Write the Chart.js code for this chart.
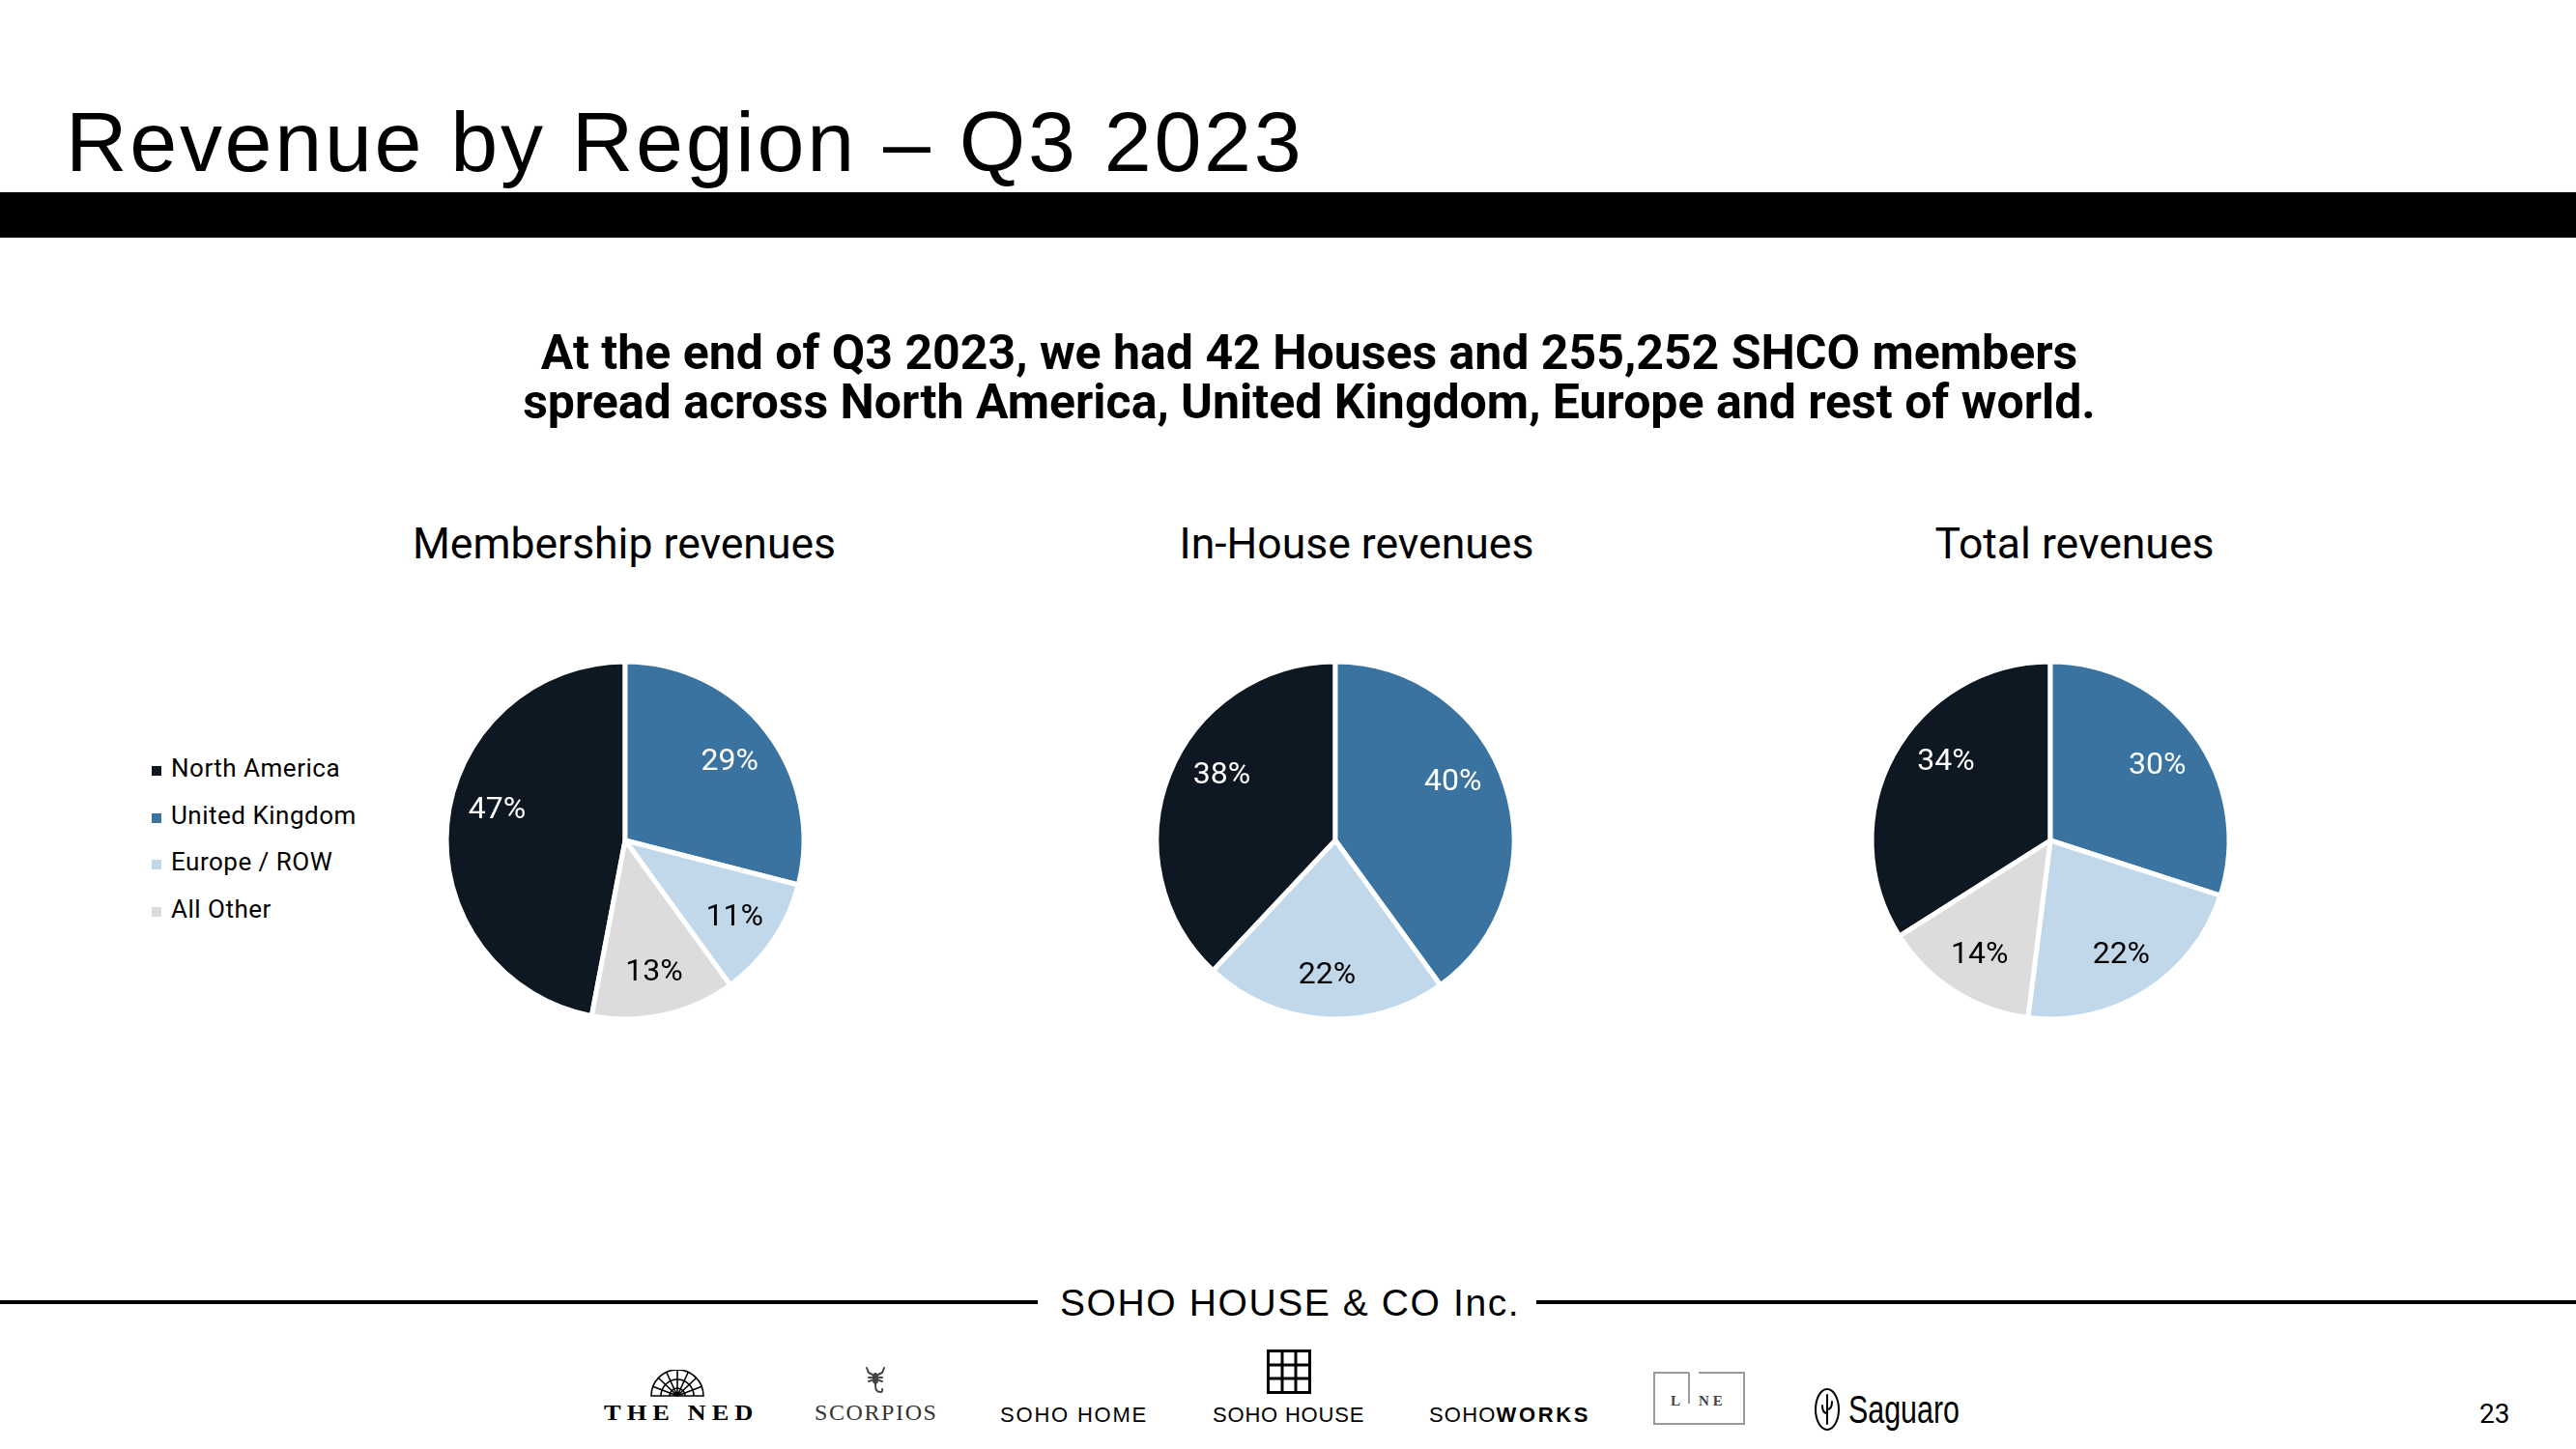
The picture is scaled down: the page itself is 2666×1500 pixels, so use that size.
<!DOCTYPE html>
<html>
<head>
<meta charset="utf-8">
<title>Revenue by Region – Q3 2023</title>
<script src="https://cdn.jsdelivr.net/npm/chart.js@4.4.0/dist/chart.umd.min.js"></script>
<style>
  html, body { margin: 0; padding: 0; background: #fff; }
  body { width: 2666px; height: 1500px; position: relative; overflow: hidden; font-family: Roboto, sans-serif; color: #000; }
  .abs { position: absolute; white-space: nowrap; }
  .title { left: 68px; top: 103px; font: 400 88px/88px "Liberation Sans", Arial, sans-serif; letter-spacing: 2.7px; }
  .bar { left: 0; top: 199px; width: 2666px; height: 47px; background: #000; }
  .subtitle { left: 355px; width: 2000px; text-align: center; font: 700 50px/44px Roboto, sans-serif; }
  .chart-title { width: 800px; text-align: center; top: 541px; font: 400 44.5px/44px Roboto, sans-serif; }
  .pie { position: absolute; }
  .legend-item { left: 157px; font: 400 26px/26px Roboto, sans-serif; letter-spacing: 0.5px; }
  .legend-item i { display: inline-block; width: 10px; height: 10px; margin-right: 10px; vertical-align: 1px; }
  .rule { height: 4px; top: 1346px; background: #000; }
  .brand { left: 1097px; top: 1329px; font: 400 39px/39px "Liberation Sans", Arial, sans-serif; letter-spacing: 1.6px; }
  .logo-sans { font: 400 22px/22px "Liberation Sans", Arial, sans-serif; top: 1454px; }
  .logo-serif { font: 22px/22px "Liberation Serif", "Times New Roman", serif; top: 1453px; }
  .page { left: 2566px; top: 1450px; font: 400 28px/28px Roboto, sans-serif; }
</style>
</head>
<body>

<div class="abs title">Revenue by Region – Q3 2023</div>
<div class="abs bar"></div>

<div class="abs subtitle" style="top:343px">At the end of Q3 2023, we had 42 Houses and 255,252 SHCO members</div>
<div class="abs subtitle" style="top:394px">spread across North America, United Kingdom, Europe and rest of world.</div>

<div id="titles"></div>
<div id="legend"></div>

<canvas id="pie1" class="pie" width="400" height="400" style="left:447px;top:670px"></canvas>
<canvas id="pie2" class="pie" width="400" height="400" style="left:1182px;top:670px"></canvas>
<canvas id="pie3" class="pie" width="400" height="400" style="left:1922px;top:670px"></canvas>

<!-- footer -->
<div class="abs rule" style="left:0;width:1074px"></div>
<div class="abs rule" style="left:1590px;width:1076px"></div>
<div class="abs brand">SOHO HOUSE &amp; CO Inc.</div>

<svg class="abs" style="left:672px;top:1418px" width="58" height="30" viewBox="0 0 58 30">
  <g fill="none" stroke="#000" stroke-width="1.6">
    <path d="M2 27 A27 27 0 0 1 56 27 Z"/>
    <path d="M12 27 A17 17 0 0 1 46 27"/>
    <path d="M21 27 A8 8 0 0 1 37 27"/>
    <path d="M29 27 L29 0 M29 27 L9 8 M29 27 L49 8 M29 27 L3 17 M29 27 L55 17 M29 27 L18 3 M29 27 L40 3"/>
  </g>
</svg>
<div class="abs logo-serif" style="left:625px;top:1451px;font-size:24px;font-weight:700;letter-spacing:5.5px;transform:scaleX(1.1);transform-origin:left top">THE NED</div>

<svg class="abs" style="left:893px;top:1414px" width="26" height="30" viewBox="0 0 26 30">
  <g fill="none" stroke="#444" stroke-width="2" stroke-linecap="round">
    <path d="M4 2 L6 7 L10 9 M22 2 L20 7 L16 9"/>
    <path d="M6 12 L9 12 M17 12 L20 12 M6 16 L9 15 M17 15 L20 16"/>
    <path d="M13 8 L13 20 Q13 27 18 27 Q21 27 20 24"/>
  </g>
  <ellipse cx="13" cy="13" rx="3.5" ry="6" fill="#444"/>
</svg>
<div class="abs logo-serif" style="left:843px;top:1451px;font-size:24px;color:#333;letter-spacing:1.6px">SCORPIOS</div>

<div class="abs logo-sans" style="left:1035px;letter-spacing:1.8px">SOHO HOME</div>

<svg class="abs" style="left:1311px;top:1397px" width="46" height="46" viewBox="0 0 46 46">
  <g fill="none" stroke="#000" stroke-width="3">
    <rect x="1.5" y="1.5" width="43" height="43"/>
    <path d="M16 1.5 V44.5 M30 1.5 V44.5 M1.5 16 H44.5 M1.5 30 H44.5"/>
  </g>
</svg>
<div class="abs logo-sans" style="left:1255px;letter-spacing:0.8px">SOHO HOUSE</div>

<div class="abs logo-sans" style="left:1479px;letter-spacing:1.2px">SOHO<b style="letter-spacing:2.6px">WORKS</b></div>

<svg class="abs" style="left:1711px;top:1420px" width="96" height="56" viewBox="0 0 96 56">
  <g fill="none" stroke="#9a9a9a" stroke-width="2">
    <path d="M37 1 H1 V54 H94 V1 H47"/>
    <path d="M37 1 V33"/>
  </g>
  <text x="18" y="35" font-family="Liberation Serif, serif" font-weight="700" font-size="15" fill="#444">L</text>
  <text x="47" y="35" font-family="Liberation Serif, serif" font-weight="700" font-size="15" fill="#444" letter-spacing="4">NE</text>
</svg>

<svg class="abs" style="left:1877px;top:1436px" width="28" height="46" viewBox="0 0 28 46">
  <g fill="none" stroke="#000" stroke-width="2" stroke-linecap="round">
    <ellipse cx="14" cy="23" rx="12" ry="21"/>
    <path d="M14 8 V38 M14 27 Q9 27 9 19 M14 23 Q19 23 19 15"/>
  </g>
</svg>
<div class="abs" style="left:1913px;top:1439px;font:400 40px/40px 'Liberation Sans',Arial,sans-serif;transform:scaleX(0.76);transform-origin:left top">Saguaro</div>

<div class="abs page">23</div>

<script>
// shares in % by region
const regions = ['North America', 'United Kingdom', 'Europe / ROW', 'All Other'];
const membershipShare = [47, 29, 11, 13];
const inHouseShare = [38, 40, 22, 0];
const totalShare = [34, 30, 22, 14];
const chartTitles = ['Membership revenues', 'In-House revenues', 'Total revenues'];

const regionColors = ['#0d1822', '#3a73a0', '#c1d8eb', '#dcdcdc'];
const labelColors = ['#ffffff', '#ffffff', '#000000', '#000000'];

// chart titles (centre x) and legend rows
const titleCenters = [646, 1404, 2147];
chartTitles.forEach((t, i) => {
    const el = document.createElement('div');
    el.className = 'abs chart-title';
    el.style.left = (titleCenters[i] - 400) + 'px';
    el.textContent = t;
    document.getElementById('titles').appendChild(el);
});

regions.forEach((r, i) => {
    const el = document.createElement('div');
    el.className = 'abs legend-item';
    el.style.top = (782 + i * 48.5) + 'px';
    const sw = document.createElement('i');
    sw.style.background = regionColors[i];
    el.appendChild(sw);
    el.appendChild(document.createTextNode(r));
    document.getElementById('legend').appendChild(el);
});

// percentage labels inside the slices
const sliceLabels = {
    id: 'sliceLabels',
    afterDatasetsDraw(chart) {
        const ctx = chart.ctx;
        const values = chart.data.datasets[0].data;
        const meta = chart.getDatasetMeta(0);
        ctx.save();
        ctx.font = '400 32px Roboto';
        ctx.textAlign = 'center';
        ctx.textBaseline = 'alphabetic';
        meta.data.forEach((arc, i) => {
            if (!values[i]) return;
            const p = arc.getProps(['x', 'y', 'startAngle', 'endAngle', 'outerRadius'], true);
            let mid = (p.startAngle + p.endAngle) / 2;
            // labels of the big slices sit a bit closer to 12 o'clock, like the slide
            if (p.endAngle - p.startAngle > Math.PI * 2 * 0.32) {
                const fromTop = ((mid + Math.PI / 2) % (Math.PI * 2) + Math.PI * 2) % (Math.PI * 2);
                mid += fromTop < Math.PI ? -0.16 : 0.16;
            }
            const r = p.outerRadius * 0.74;
            ctx.fillStyle = labelColors[i];
            ctx.fillText(values[i] + '%', p.x + Math.cos(mid) * r, p.y + Math.sin(mid) * r + 11);
        });
        ctx.restore();
    }
};

function makePie(id, values) {
    const total = values.reduce((a, b) => a + b, 0);
    // North America ends at 12 o'clock, the rest follow clockwise from the top
    const rotation = 360 * (1 - values[0] / total);
    return new Chart(document.getElementById(id), {
        type: 'pie',
        data: {
            labels: regions,
            datasets: [{
                data: values,
                backgroundColor: regionColors,
                borderColor: '#ffffff',
                borderWidth: 5,
                radius: 185,
                rotation: rotation
            }]
        },
        options: {
            responsive: false,
            animation: false,
            layout: { padding: 0 },
            plugins: {
                legend: { display: false },
                tooltip: { enabled: false }
            }
        },
        plugins: [sliceLabels]
    });
}

makePie('pie1', membershipShare);
makePie('pie2', inHouseShare);
makePie('pie3', totalShare);
</script>
</body>
</html>
